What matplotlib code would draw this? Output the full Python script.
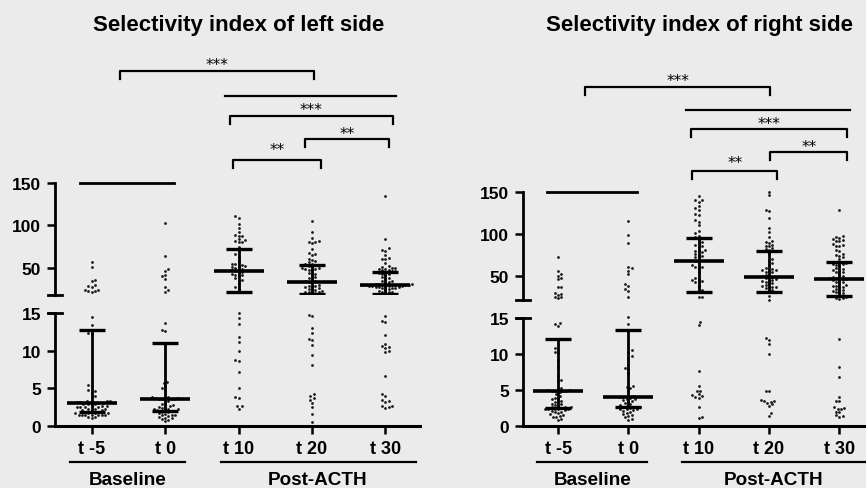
import numpy as np
import matplotlib.pyplot as plt
from matplotlib.transforms import blended_transform_factory

plt.rcParams['font.family'] = ['Liberation Sans', 'DejaVu Sans']

W, H = 866, 489
groups = ['t -5', 't 0', 't 10', 't 20', 't 30']

# ---- left side values ----
left_tm5 = [57, 51, 36, 35, 30, 29, 28, 24, 24, 23, 23, 22,
            14.5, 13.4, 12.4, 12.2, 5.4, 5.3, 4.8, 4.7, 4.5, 4.0, 3.9,
            3.3, 3.3, 3.3, 3.2, 3.2, 3.2, 3.1, 3.1,
            2.9, 2.9, 2.9, 2.7, 2.7, 2.7, 2.5, 2.5, 2.5, 2.5, 2.3, 2.3, 2.3, 2.1, 2.1, 2.1,
            1.9, 1.9, 1.7, 1.7, 1.7, 1.7, 1.5, 1.5, 1.5, 1.5, 1.4, 1.4, 1.4, 1.2, 1.2, 1.0]
left_t0 = [103, 64, 49, 46, 42, 40, 37, 28, 24, 22,
           13.7, 12.8, 12.6, 10.9, 5.9, 5.7, 5.3, 5.1, 4.8, 4.2, 3.9,
           3.8, 3.7, 3.7, 3.6, 3.6, 3.6, 3.6, 3.6,
           3.3, 3.1, 2.9, 2.8, 2.7, 2.6, 2.5, 2.4, 2.3, 2.2, 2.2, 2.1, 2.1, 2.0, 2.0,
           1.9, 1.8, 1.7, 1.6, 1.5, 1.5, 1.4, 1.3, 1.2, 1.1, 1.0, 0.9, 0.8, 0.6]
left_t10 = [111, 109, 102, 97, 92, 89, 88, 87, 84, 83, 82, 81, 80, 75, 72, 70, 66, 63,
            58, 55, 54, 53, 52, 52, 51, 50, 49, 48, 47,
            46, 45, 44, 43, 42, 41, 40, 38, 36, 35, 31, 28, 25, 21,
            15.0, 14.4, 13.5, 11.8, 11.1, 10.0, 8.7, 8.6, 7.2, 5.0, 3.9, 3.7, 2.7, 2.6, 2.3]
left_t20 = [105, 92, 85, 82, 81, 80, 79, 72, 68, 66, 65, 61, 59, 58, 57, 55, 54,
            53, 52, 51, 50, 50, 49, 49, 48, 47, 44, 43, 42, 39, 38, 37, 35, 34,
            33, 32, 30, 29, 29, 28, 27, 26, 25, 24, 24, 23, 22, 21, 21, 20, 20,
            14.8, 14.6, 13.0, 12.3, 11.6, 11.4, 10.7, 9.4, 8.1, 4.2, 4.0, 3.7, 3.5, 3.1, 2.5, 1.6, 0.5]
left_t30 = [135, 84, 73, 71, 70, 65, 62, 61, 60, 56, 52, 51, 50, 50, 49, 49, 48, 47, 46, 46,
            45, 44, 43, 43, 41, 39, 38, 37, 35, 34, 33, 32, 31, 31, 31, 30, 30, 30, 30, 30,
            30, 30, 29, 29, 29, 29, 28, 28, 27, 27, 26, 26, 26, 25, 24, 23, 22, 22, 21, 20,
            14.6, 14.0, 13.8, 12.1, 10.9, 10.6, 10.5, 10.3, 10.0, 9.8, 6.6, 4.2, 4.0, 3.4, 3.3,
            3.2, 2.7, 2.6, 2.5, 2.4]
left_median = [3.1, 3.6, 46.5, 33.5, 30]
left_q1 = [1.9, 2.0, 21, 19.5, 19.5]
left_q3 = [12.8, 11.0, 72, 53.5, 45]

# ---- right side values ----
right_tm5 = [72, 56, 52, 50, 47, 46, 37, 36, 29, 28, 27, 25, 24, 23,
             14.3, 14.1, 13.9, 10.8, 10.6, 10.3, 10.1, 9.1, 8.2, 7.0, 6.4, 6.2, 5.3, 5.1, 4.9,
             4.9, 4.9, 4.9, 5.0, 5.0,
             4.7, 4.5, 4.2, 3.9, 3.8, 3.7, 3.5, 3.4, 3.3, 3.1, 3.0, 2.9, 2.8, 2.7, 2.6, 2.6, 2.5,
             2.4, 2.4, 2.3, 2.3, 2.3, 2.2, 2.1, 2.0, 1.9, 1.8, 1.6, 1.5, 1.4, 1.3, 1.2, 1.0, 0.8]
right_t0 = [115, 99, 89, 61, 59, 56, 52, 40, 38, 34, 32, 25,
            15.1, 14.2, 10.5, 10.3, 9.7, 9.4, 8.5, 8.1, 7.9, 7.3, 5.5, 5.4, 5.3, 4.9, 4.1, 4.0,
            4.0, 3.9, 3.8, 3.7, 3.6, 3.5, 3.4, 3.2, 3.0, 2.9, 2.8, 2.7, 2.6, 2.6,
            2.5, 2.4, 2.4, 2.3, 2.2, 2.1, 2.0, 1.8, 1.6, 1.5, 1.4, 1.2, 1.0, 0.9]
right_t10 = [145, 141, 140, 138, 133, 131, 128, 124, 122, 116, 114, 110, 103, 101, 98, 96,
             94, 90, 89, 87, 86, 85, 81, 80, 79, 78, 76, 75, 74, 72, 71, 68,
             66, 63, 62, 61, 60, 58, 54, 47, 46, 45, 44, 43, 42, 38, 33, 32,
             25, 24, 14.4, 14.0, 7.6, 5.6, 4.9, 4.8, 4.4, 4.3, 4.1, 4.0, 3.9, 2.6, 1.3, 1.1]
right_t20 = [150, 146, 129, 127, 119, 107, 102, 96, 91, 90, 89, 87, 86, 85, 83, 82, 81,
             79, 76, 70, 68, 65, 63, 59, 58, 57, 57, 56, 55, 54, 52, 51, 50, 49,
             48, 47, 46, 45, 44, 44, 43, 41, 40, 39, 38, 37, 37, 36, 35, 33, 32,
             26, 21, 12.2, 12.0, 11.4, 10.0, 4.9, 4.8, 3.6, 3.5, 3.5, 3.4, 3.2, 3.0, 2.8, 1.8, 1.4]
right_t30 = [129, 97, 96, 95, 94, 93, 92, 91, 88, 87, 86, 85, 81, 80, 76, 75, 74, 72, 70,
             66, 66, 65, 64, 64, 63, 62, 59, 58, 57, 56, 55, 54, 52, 50, 49, 48, 47, 47,
             46, 46, 45, 44, 43, 42, 40, 39, 38, 38, 37, 36, 34, 33, 32, 31, 30, 29, 27,
             25, 23, 23, 22, 12.1, 8.2, 6.8, 4.0, 3.5, 3.5, 2.6, 2.5, 2.4, 2.3, 2.0, 1.9,
             1.5, 1.4, 1.3]
right_median = [4.9, 4.0, 67, 49, 46.4]
right_q1 = [2.5, 2.6, 31, 31, 26]
right_q3 = [12.1, 13.3, 95, 80, 66.7]

stars = ['***', '***', '**', '**']

BG = '#ebebeb'
fig = plt.figure(figsize=(W / 100, H / 100), dpi=100, facecolor=BG)


def px_axes(x0, x1, ytop, ybot):
    ax = fig.add_axes([x0 / W, 1 - ybot / H, (x1 - x0) / W, (ybot - ytop) / H])
    ax.set_facecolor('none')
    return ax


def swarm(ypix, d):
    xs = np.zeros(len(ypix))
    px, py = [], []
    for k, i in enumerate(np.argsort(ypix)):
        y = ypix[i]
        cand = [0.0]
        for j in range(1, 60):
            s = 1 if k % 2 else -1
            cand += [s * j * d * 0.5, -s * j * d * 0.5]
        ax_, ay_ = np.array(px), np.array(py)
        for x in cand:
            if len(ax_) == 0 or np.all((ax_ - x) ** 2 + (ay_ - y) ** 2 >= d * d * 0.95):
                xs[i] = x
                break
        px.append(xs[i]); py.append(y)
    return xs


def panel(x0, x1, up_top, up_bot, lo_top, xright, ybot_up, title, title_x, data,
          med, q1, q3, brackets, base_y):
    up = px_axes(x0, x1, up_top, up_bot)
    lo = px_axes(x0, x1, lo_top, 427)
    for ax in (up, lo):
        ax.set_xlim(-0.5, xright)
        for s in ('top', 'right'):
            ax.spines[s].set_visible(False)
        ax.spines['left'].set_linewidth(2.0)
        ax.tick_params(axis='y', length=6, width=1.8, pad=4)
    up.set_ylim(ybot_up, 150)
    up.spines['bottom'].set_visible(False)
    up.set_xticks([])
    up.set_yticks([50, 100, 150])
    up.set_yticklabels(['50', '100', '150'], fontweight='bold', fontsize=12.5)
    lo.set_ylim(0, 15)
    lo.set_yticks([0, 5, 10, 15])
    lo.set_yticklabels(['0', '5', '10', '15'], fontweight='bold', fontsize=12.5)
    lo.spines['bottom'].set_linewidth(2.2)
    lo.set_xticks(range(len(groups)))
    lo.set_xticklabels(groups, fontweight='bold', fontsize=13)
    lo.tick_params(axis='x', length=6, width=1.8, pad=4)

    # axis break caps
    for ypx in (up_bot, lo_top):
        fig.add_artist(plt.Line2D([(x0 - 7) / W, (x0 + 7) / W], [1 - ypx / H] * 2,
                                  color='k', lw=2.0))

    ppu = (x1 - x0) / (xright + 0.5)  # pixels per x unit
    for i, vals in enumerate(data):
        v = np.array(vals, float)
        for ax, mask in ((up, v > 16), (lo, v <= 16)):
            vv = v[mask]
            if len(vv) == 0:
                continue
            ypix = ax.transData.transform(np.c_[np.zeros(len(vv)), vv])[:, 1]
            off = swarm(ypix, 3.3) / ppu
            ax.scatter(i + off, vv, s=4, color='#1a1a1a', linewidths=0, clip_on=False, zorder=2)
        ax = up if med[i] > 16 else lo
        hm, hc = 25 / ppu, 13 / ppu
        ax.plot([i - hm, i + hm], [med[i]] * 2, color='k', lw=2.6, solid_capstyle='butt', zorder=3)
        ax.plot([i, i], [q1[i], q3[i]], color='k', lw=2.0, zorder=3)
        for q in (q1[i], q3[i]):
            ax.plot([i - hc, i + hc], [q, q], color='k', lw=2.4, solid_capstyle='butt', zorder=3)

    # line over baseline groups
    up.plot([-0.16, 1.12], [149.5, 149.5], color='k', lw=2.0, clip_on=False)

    tr = blended_transform_factory(up.transData, fig.transFigure)
    for (xa, xb, ypx, ty), st in zip(brackets, stars):
        y = 1 - ypx / H
        yd = 1 - (ypx + 8) / H
        up.plot([xa, xa, xb, xb], [yd, y, y, yd], transform=tr, color='k', lw=1.6,
                clip_on=False)
        up.text((xa + xb) / 2, 1 - ty / H, st, transform=tr, ha='center', va='baseline',
                fontsize=11, family='DejaVu Sans')
    # plain line above the post-ACTH brackets
    up.plot([1.82, 4.15], [1 - base_y / H] * 2, transform=tr, color='k', lw=1.6, clip_on=False)

    # group labels
    for xa, xb, name in ((-0.3, 1.27, 'Baseline'), (1.76, 4.42, 'Post-ACTH')):
        xb = min(xb, xright)
        lo.plot([xa, xb], [1 - 463 / H] * 2, transform=tr, color='k', lw=1.6, clip_on=False)
        xc = 0.49 if name == 'Baseline' else 3.07
        lo.text(xc, 1 - 481 / H, name, transform=tr, ha='center', va='center',
                fontsize=13.6, fontweight='bold')

    fig.text(title_x / W, 1 - 26 / H, title, ha='center', va='center',
             fontsize=16, fontweight='bold')


left_brackets = [(0.38, 3.02, 72, 70),
                 (1.88, 4.10, 117, 115),
                 (2.91, 4.05, 140, 139),
                 (1.92, 3.12, 161, 155)]
right_brackets = [(0.38, 3.02, 88, 86),
                  (1.89, 4.11, 130, 129),
                  (3.02, 4.11, 153, 152),
                  (1.91, 3.12, 172, 168)]

panel(55, 420, 184, 296, 314, 4.47, 18, 'Selectivity index of left side', 239,
      [left_tm5, left_t0, left_t10, left_t20, left_t30],
      left_median, left_q1, left_q3, left_brackets, 97)
panel(523, 866, 193, 301, 319, 4.38, 21, 'Selectivity index of right side', 699,
      [right_tm5, right_t0, right_t10, right_t20, right_t30],
      right_median, right_q1, right_q3, right_brackets, 111)

fig.savefig('out.png', dpi=100, facecolor=BG)
